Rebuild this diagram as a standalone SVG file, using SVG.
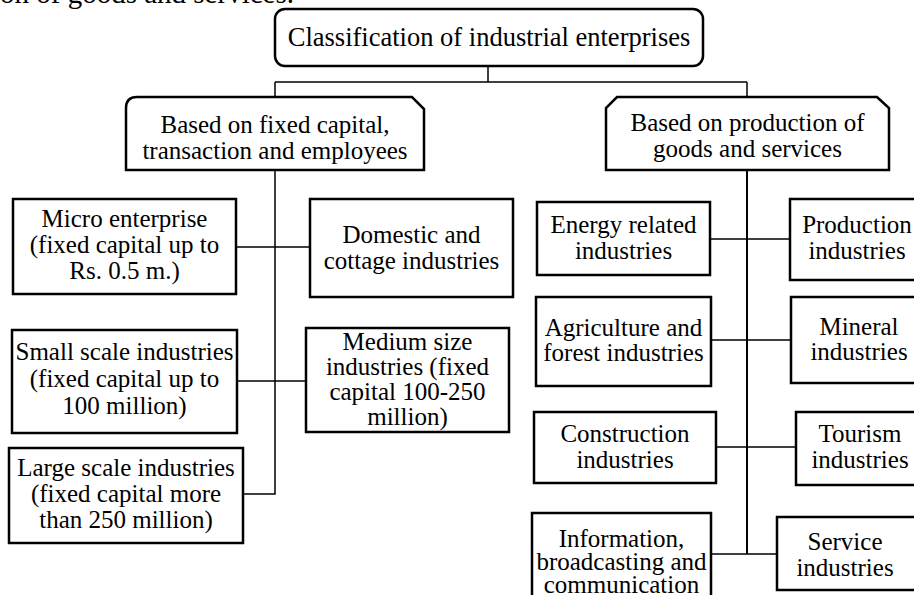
<svg xmlns="http://www.w3.org/2000/svg" width="914" height="595" viewBox="0 0 914 595">
<style>
text{font-family:"Liberation Serif","Times New Roman",serif;font-size:25px;fill:#000;text-anchor:middle}
.box{fill:#fff;stroke:#000;stroke-width:2.5}
.ln{fill:none;stroke:#000;stroke-width:1.5}
.tk{fill:none;stroke:#000;stroke-width:2}
</style>
<rect width="914" height="595" fill="#fff"/>
<text x="0" y="3" style="text-anchor:start;font-size:29px">on of goods and services.</text>
<g id="connectors">
<path class="ln" d="M488,66V82M275,82H747M275,82V97M747,82V97"/>
<path class="ln" d="M275,170V494H243M236,247H310M237,381H306"/>
<path class="tk" d="M747,170V554"/>
<path class="ln" d="M710,239H790M711,340H791M716,447H796M711,554H777"/>
</g>
<g id="root">
<rect class="box" x="275" y="9" width="428" height="57" rx="10"/>
<text x="489" y="46" style="font-size:26.5px">Classification of industrial enterprises</text>
</g>
<g id="fixed-capital">
<path class="box" d="M126,170V108Q126,97 137,97H412L424,109V170Z"/>
<text x="275" y="133">Based on fixed capital,</text>
<text x="275" y="159">transaction and employees</text>
</g>
<g id="production-goods">
<path class="box" d="M606,170V108L617,97H877L889,108V170Z"/>
<text x="747.5" y="131">Based on production of</text>
<text x="747.5" y="157">goods and services</text>
</g>
<g id="micro">
<rect class="box" x="13" y="199" width="223" height="95"/>
<text x="124.5" y="227">Micro enterprise</text>
<text x="124.5" y="253">(fixed capital up to</text>
<text x="124.5" y="279">Rs. 0.5 m.)</text>
</g>
<g id="domestic">
<rect class="box" x="310" y="199" width="203" height="98"/>
<text x="411.5" y="243">Domestic and</text>
<text x="411.5" y="269">cottage industries</text>
</g>
<g id="small">
<rect class="box" x="12" y="330" width="225" height="103"/>
<text x="124.5" y="360">Small scale industries</text>
<text x="124.5" y="387">(fixed capital up to</text>
<text x="124.5" y="414">100 million)</text>
</g>
<g id="medium">
<rect class="box" x="306" y="328" width="203" height="104"/>
<text x="407.5" y="350">Medium size</text>
<text x="407.5" y="375">industries (fixed</text>
<text x="407.5" y="400">capital 100-250</text>
<text x="407.5" y="425">million)</text>
</g>
<g id="large">
<rect class="box" x="9" y="448" width="234" height="95"/>
<text x="126" y="476">Large scale industries</text>
<text x="126" y="502">(fixed capital more</text>
<text x="126" y="528">than 250 million)</text>
</g>
<g id="energy">
<rect class="box" x="537" y="202" width="173" height="73"/>
<text x="623.5" y="233">Energy related</text>
<text x="623.5" y="259">industries</text>
</g>
<g id="production">
<rect class="box" x="790" y="199" width="130" height="81"/>
<text x="857" y="233">Production</text>
<text x="857" y="259">industries</text>
</g>
<g id="agriculture">
<rect class="box" x="536" y="297" width="175" height="89"/>
<text x="623.5" y="336">Agriculture and</text>
<text x="623.5" y="361">forest industries</text>
</g>
<g id="mineral">
<rect class="box" x="791" y="297" width="130" height="86"/>
<text x="859" y="335">Mineral</text>
<text x="859" y="360">industries</text>
</g>
<g id="construction">
<rect class="box" x="534" y="412" width="182" height="71"/>
<text x="625" y="442">Construction</text>
<text x="625" y="468">industries</text>
</g>
<g id="tourism">
<rect class="box" x="796" y="412" width="125" height="73"/>
<text x="860" y="442">Tourism</text>
<text x="860" y="468">industries</text>
</g>
<g id="information">
<rect class="box" x="532" y="513" width="179" height="100"/>
<text x="621.5" y="547">Information,</text>
<text x="621.5" y="570">broadcasting and</text>
<text x="621.5" y="593">communication</text>
</g>
<g id="service">
<rect class="box" x="777" y="517" width="145" height="73"/>
<text x="845" y="550">Service</text>
<text x="845" y="576">industries</text>
</g>
</svg>
